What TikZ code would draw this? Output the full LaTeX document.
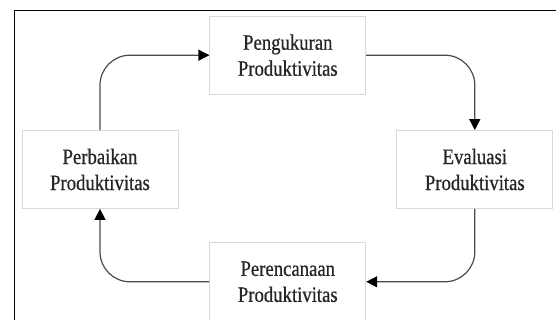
\documentclass[tikz,border=0pt]{standalone}
\usepackage{fontspec}
\setmainfont{Liberation Serif}[FakeStretch=0.85,FakeBold=0.6]
\usetikzlibrary{positioning,arrows.meta}
\tikzset{
  cycle box/.style={
    draw=black!15,
    line width=0.8pt,
    fill=white,
    minimum width=156pt,
    minimum height=78pt,
    align=center,
    text=black!85,
    font=\fontsize{22}{26}\selectfont,
  },
  cycle arrow/.style={
    draw=black!70,
    line width=1.2pt,
    rounded corners=30pt,
    -{Triangle[length=11pt,width=11pt,color=black]},
  }
}
\begin{document}
\begin{tikzpicture}[x=1pt,y=1pt]
        \useasboundingbox[fill=white] (0,0) rectangle (556,320);
        \draw[line width=1.5pt] (14.5,0) -- (14.5,309.3) -- (556,309.3);

        \node [cycle box] (improve) at (100,150.5) {Perbaikan\\Produktivitas};
        \node [cycle box, right=218pt of improve] (evaluate) {Evaluasi\\Produktivitas};
        \node [cycle box, above right=35.5pt and 31pt of improve] (measure) {Pengukuran\\Produktivitas};
        \node [cycle box, below right=33.5pt and 31pt of improve] (plan) {Perencanaan\\Produktivitas};

        \draw [cycle arrow] (improve.north) |- (measure.west);
        \draw [cycle arrow] (measure.east) -| (evaluate.north);
        \draw [cycle arrow] (evaluate.south) |- (plan.east);
        \draw [cycle arrow] (plan.west) -| (improve.south);
    \end{tikzpicture}
\end{document}
